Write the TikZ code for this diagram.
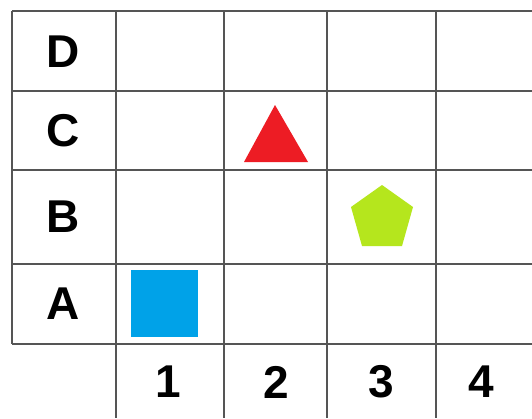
\documentclass[tikz,border=0pt]{standalone}
\usepackage{fontspec}
\setmainfont{Liberation Sans}
\definecolor{gridc}{HTML}{555555}
\definecolor{sqblue}{HTML}{00A2E8}
\definecolor{trired}{HTML}{ED1C24}
\definecolor{pentlime}{HTML}{B5E61D}
\begin{document}
\begin{tikzpicture}[x=1pt,y=-1pt,
  gridline/.style={draw=gridc,line width=2.8pt},
  lbl/.style={font=\fontsize{46}{46}\selectfont\bfseries,inner sep=0pt,anchor=center}]
\useasboundingbox[fill=white] (0,0) rectangle (532,418);
% horizontal lines
\foreach \y in {11,91,170,264,344}
  \draw[gridline] (12,\y) -- (532,\y);
% vertical lines
\draw[gridline] (12,11) -- (12,344);
\foreach \x in {116,224,327,436}
  \draw[gridline] (\x,11) -- (\x,418);
% row labels
\node[lbl] (D) at (63,52) {D};
\node[lbl] (C) at (63,131) {C};
\node[lbl] (B) at (63,217) {B};
\node[lbl] (A) at (63,304) {A};
% column labels
\node[lbl] (n1) at (168,382) {1};
\node[lbl] (n2) at (276,382) {2};
\node[lbl] (n3) at (381,382) {3};
\node[lbl] (n4) at (481,382) {4};
% shapes
\fill[sqblue] (131,270) rectangle (198,337);
\fill[trired] (275,105) -- (308,162) -- (244,162) -- cycle;
\fill[pentlime] (382,185) -- (413,207) -- (402,246) -- (362,246) -- (351,207) -- cycle;
\end{tikzpicture}
\end{document}
